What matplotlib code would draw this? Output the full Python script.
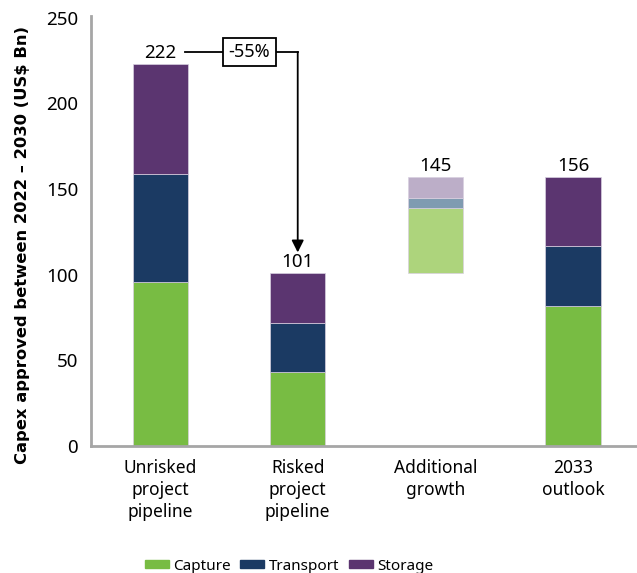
import matplotlib.pyplot as plt
from matplotlib.patches import Patch

plt.rcParams['font.family'] = ['Noto Sans', 'DejaVu Sans']

# categories and stacked values (US$ Bn)
categories = ["Unrisked\nproject\npipeline", "Risked\nproject\npipeline",
              "Additional\ngrowth", "2033\noutlook"]
capture = [96, 43, 38, 82]
transport = [63, 29, 6, 35]
storage = [64, 29, 12, 40]
bases = [0, 0, 101, 0]
total_labels = ["222", "101", "145", "156"]
change_label = "-55%"

series = ["Capture", "Transport", "Storage"]
colors = ["#78bc43", "#1b3a63", "#5b3570"]
light_colors = ["#add47c", "#7f9bb1", "#bcaec8"]

fig = plt.figure(figsize=(6.37, 5.73), dpi=100)
ax = fig.add_axes([0.1424, 0.2216, 0.8576, 0.7504])

x = list(range(len(categories)))
width = 0.4
for i in x:
    bottom = bases[i]
    pal = light_colors if bases[i] > 0 else colors
    for vals, c in zip([capture, transport, storage], pal):
        ax.bar(i, vals[i], width, bottom=bottom, color=c,
               edgecolor="#d8d0e0", linewidth=0.5)
        bottom += vals[i]
    ax.text(i, bottom + 1.2, total_labels[i], ha="center", va="bottom",
            fontsize=13.5)

# -55% connector from first bar to second
top0 = bases[0] + capture[0] + transport[0] + storage[0]
top1 = bases[1] + capture[1] + transport[1] + storage[1]
y_line = top0 + 7
ax.plot([0.18, 1], [y_line, y_line], color="black", lw=1.3)
ax.annotate("", xy=(1, top1 + 12), xytext=(1, y_line),
            arrowprops=dict(arrowstyle="-|>", color="black", lw=1.3,
                            mutation_scale=18, shrinkA=0, shrinkB=0))
ax.text(0.65, y_line, change_label, ha="center", va="center", fontsize=13,
        bbox=dict(boxstyle="square,pad=0.3", fc="white", ec="black", lw=1.3))

ax.set_xlim(-0.504, 3.465)
ax.set_ylim(0, 251)
ax.set_yticks([0, 50, 100, 150, 200, 250])
ax.set_xticks(x)
ax.set_xticklabels(categories, fontsize=12.5, linespacing=1.32)
ax.tick_params(axis="y", labelsize=13.5, length=0, pad=9)
ax.tick_params(axis="x", length=0, pad=9)
for s in ["top", "right"]:
    ax.spines[s].set_visible(False)
for s in ["left", "bottom"]:
    ax.spines[s].set_color("#a6a6a6")
    ax.spines[s].set_linewidth(2)

fig.text(0.035, 0.572, "Capex approved between 2022 – 2030 (US$ Bn)",
         rotation=90, ha="center", va="center", fontsize=11.8,
         fontweight="bold", family="DejaVu Sans")

handles = [Patch(color=c, label=s) for s, c in zip(series, colors)]
fig.legend(handles=handles, loc="center", bbox_to_anchor=(0.454, 0.012),
           ncol=3, frameon=False, fontsize=11, handlelength=1.57,
           handleheight=0.46, columnspacing=0.6, handletextpad=0.3)

fig.savefig("out.png", dpi=100)
